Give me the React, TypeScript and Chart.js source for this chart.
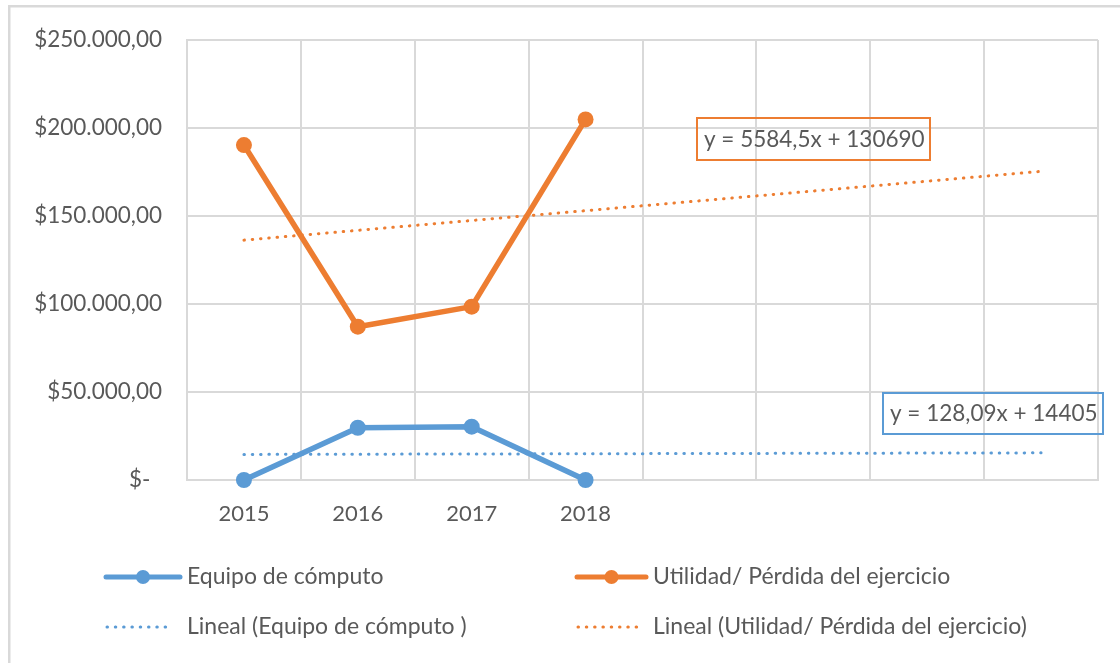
import React, { useEffect, useRef } from "react";
import { Chart, registerables } from "chart.js";

Chart.register(...registerables);

// ---- data ----
const categories = ["2015", "2016", "2017", "2018", "", "", "", ""];
const equipoValues = [0, 29700, 30300, 0];
const utilidadValues = [190300, 87100, 98500, 204900];
// Linear trendline endpoints (x = 1 and x = 8) from the shown equations
const equipoTrend = [14533, null, null, null, null, null, null, 15430];
const utilidadTrend = [136275, null, null, null, null, null, null, 175366];
const yTickValues = [0, 50000, 100000, 150000, 200000, 250000];
const yTickLabels = ["$-  ", "$50.000,00", "$100.000,00", "$150.000,00", "$200.000,00", "$250.000,00"];
const seriesNames = [
  "Equipo de cómputo",
  "Utilidad/ Pérdida del ejercicio",
  "Lineal (Equipo de cómputo )",
  "Lineal (Utilidad/ Pérdida del ejercicio)",
];
const equipoEquation = "y = 128,09x + 14405";
const utilidadEquation = "y = 5584,5x + 130690";

const BLUE = "#5B9BD5";
const ORANGE = "#ED7D31";
const TEXT = "#595959";
const GRID = "#d9d9d9";
const FONT = "Lato, 'Open Sans', sans-serif";

const decorPlugin = {
  id: "decor",
  beforeDraw(chart: any) {
    const ctx = chart.ctx;
    ctx.save();
    ctx.fillStyle = "#ffffff";
    ctx.fillRect(0, 0, chart.width, chart.height);
    ctx.fillStyle = GRID;
    ctx.fillRect(8, 5, chart.width - 8, 2.5);
    ctx.fillRect(8, 5, 2.5, chart.height - 5);
    ctx.restore();
  },
  afterDraw(chart: any) {
    const ctx = chart.ctx;
    ctx.save();
    ctx.font = `22.5px ${FONT}`;
    ctx.textBaseline = "middle";
    ctx.textAlign = "left";

    // trendline equation boxes
    ctx.lineWidth = 2;
    ctx.strokeStyle = ORANGE;
    ctx.strokeRect(697, 118, 233, 42);
    ctx.fillStyle = TEXT;
    ctx.fillText(utilidadEquation, 704, 140);
    ctx.strokeStyle = BLUE;
    ctx.strokeRect(883, 393, 220, 41);
    ctx.fillText(equipoEquation, 890, 414);

    // legend
    const drawSolid = (x1: number, x2: number, y: number, color: string) => {
      ctx.strokeStyle = color;
      ctx.lineWidth = 5;
      ctx.lineCap = "round";
      ctx.setLineDash([]);
      ctx.beginPath();
      ctx.moveTo(x1, y);
      ctx.lineTo(x2, y);
      ctx.stroke();
      ctx.fillStyle = color;
      ctx.beginPath();
      ctx.arc((x1 + x2) / 2, y, 7, 0, Math.PI * 2);
      ctx.fill();
    };
    const drawDots = (x1: number, x2: number, y: number, color: string) => {
      ctx.strokeStyle = color;
      ctx.lineWidth = 3;
      ctx.lineCap = "round";
      ctx.setLineDash([0.5, 7.8]);
      ctx.beginPath();
      ctx.moveTo(x1, y);
      ctx.lineTo(x2, y);
      ctx.stroke();
      ctx.setLineDash([]);
    };
    drawSolid(106, 180, 577, BLUE);
    drawSolid(577, 646, 577, ORANGE);
    drawDots(107, 173, 627, BLUE);
    drawDots(578, 640, 627, ORANGE);
    ctx.font = `23px ${FONT}`;
    ctx.fillStyle = TEXT;
    ctx.fillText(seriesNames[0], 187, 577);
    ctx.fillText(seriesNames[1], 653, 577);
    ctx.fillText(seriesNames[2], 187, 627);
    ctx.fillText(seriesNames[3], 653, 627);
    ctx.restore();
  },
};

export default function App() {
  const canvasRef = useRef<HTMLCanvasElement | null>(null);

  useEffect(() => {
    if (!canvasRef.current) return;
    const chart = new Chart(canvasRef.current, {
      type: "line",
      data: {
        labels: categories,
        datasets: [
          {
            label: seriesNames[2],
            data: equipoTrend,
            borderColor: BLUE,
            borderWidth: 3,
            borderDash: [0.5, 7.8],
            borderCapStyle: "round",
            pointRadius: 0,
            spanGaps: true,
            fill: false,
          },
          {
            label: seriesNames[3],
            data: utilidadTrend,
            borderColor: ORANGE,
            borderWidth: 3,
            borderDash: [0.5, 7.8],
            borderCapStyle: "round",
            pointRadius: 0,
            spanGaps: true,
            fill: false,
          },
          {
            label: seriesNames[0],
            data: equipoValues,
            borderColor: BLUE,
            backgroundColor: BLUE,
            borderWidth: 5.5,
            borderCapStyle: "round",
            borderJoinStyle: "round",
            pointRadius: 8,
            pointBorderWidth: 0,
            pointBackgroundColor: BLUE,
            fill: false,
            clip: false,
          },
          {
            label: seriesNames[1],
            data: utilidadValues,
            borderColor: ORANGE,
            backgroundColor: ORANGE,
            borderWidth: 5.5,
            borderCapStyle: "round",
            borderJoinStyle: "round",
            pointRadius: 8,
            pointBorderWidth: 0,
            pointBackgroundColor: ORANGE,
            fill: false,
            clip: false,
          },
        ],
      },
      options: {
        animation: false,
        responsive: true,
        maintainAspectRatio: false,
        layout: { padding: { top: 40, left: 0, right: 22, bottom: 123 } },
        plugins: {
          legend: { display: false },
          tooltip: { enabled: false },
        },
        scales: {
          x: {
            type: "category",
            offset: true,
            grid: { color: GRID, lineWidth: 2, offset: true, drawTicks: false },
            border: { display: true, color: GRID, width: 2 },
            ticks: {
              color: TEXT,
              font: { family: FONT, size: 22 },
              padding: 21,
              maxRotation: 0,
              autoSkip: false,
            },
            afterFit: (s: any) => {
              s.height = 60;
            },
          },
          y: {
            min: 0,
            max: 250000,
            grid: { color: GRID, lineWidth: 2, drawTicks: false },
            border: { display: true, color: GRID, width: 2 },
            afterBuildTicks: (s: any) => {
              s.ticks = yTickValues.map((v) => ({ value: v }));
            },
            ticks: {
              color: TEXT,
              font: { family: FONT, size: 22.5 },
              padding: 25,
              callback: (v: any) => {
                const i = yTickValues.indexOf(Number(v));
                return i >= 0 ? yTickLabels[i] : "";
              },
            },
            afterFit: (s: any) => {
              s.width = 187;
            },
          },
        },
      },
      plugins: [decorPlugin],
    } as any);
    return () => chart.destroy();
  }, []);

  return (
    <div style={{ position: "absolute", left: 0, top: 0, width: 1120, height: 663, background: "#fff" }}>
      <canvas ref={canvasRef} />
    </div>
  );
}
